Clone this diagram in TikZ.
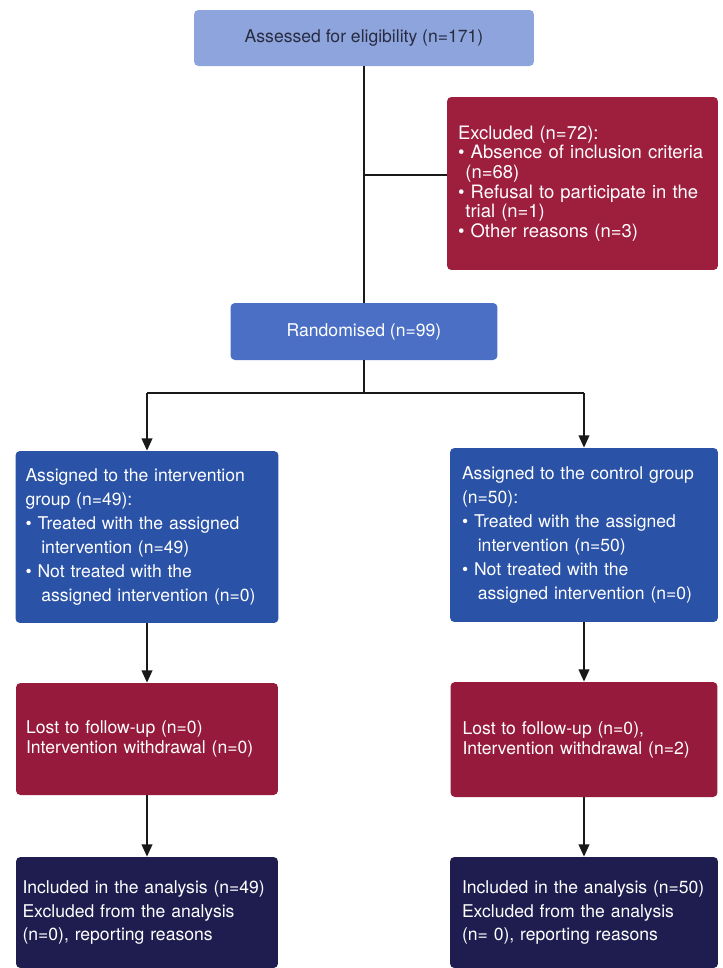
\documentclass[tikz,border=0pt]{standalone}
\usepackage{fontspec}
\setmainfont{TeX Gyre Heros}
\usetikzlibrary{arrows.meta}
\definecolor{assessblue}{RGB}{141,164,220}
\definecolor{randblue}{RGB}{74,111,196}
\definecolor{groupblue}{RGB}{42,82,166}
\definecolor{exclred}{RGB}{158,30,62}
\definecolor{lostred}{RGB}{150,26,60}
\definecolor{anavy}{RGB}{31,29,80}
\definecolor{darktext}{RGB}{40,44,66}
\newcommand{\itm}{\textbullet\ }

\begin{document}
\begin{tikzpicture}[x=0.02cm,y=-0.02cm,
    box/.style={rounded corners=2.5pt, inner ysep=0pt, text=white, align=left,
        font=\fontsize{10}{13.6}\selectfont},
    con/.style={line width=1.2pt, black!90},
    arr/.style={con, -{Triangle[length=7pt,width=6pt]}}]
    \useasboundingbox (0,0) rectangle (723,968);

    % screening
    \node[box, fill=assessblue, text=darktext, align=center,
        minimum width=6.8cm, minimum height=1.12cm] (assess) at (364,38)
        {Assessed for eligibility (n=171)};
    \node[box, fill=exclred, font=\fontsize{10.5}{11.2}\selectfont,
        text width=4.98cm, inner xsep=0.22cm, minimum height=3.46cm] (excl) at (582.5,183.5)
        {Excluded (n=72):\\
         \itm Absence of inclusion criteria\\
         \hspace*{0.4em}(n=68)\\
         \itm Refusal to participate in the\\
         \hspace*{0.4em}trial (n=1)\\
         \itm Other reasons (n=3)};
    \node[box, fill=randblue, align=center,
        minimum width=5.34cm, minimum height=1.14cm] (rand) at (364,331.5)
        {Randomised (n=99)};

    % allocation
    \node[box, fill=groupblue, text width=4.86cm, inner xsep=0.2cm,
        minimum height=3.44cm] (intv) at (147,537)
        {Assigned to the intervention\\
         group (n=49):\\
         \itm Treated with the assigned\\
         \hspace*{0.9em}intervention (n=49)\\
         \itm Not treated with the\\
         \hspace*{0.9em}assigned intervention (n=0)};
    \node[box, fill=groupblue, text width=4.88cm, inner xsep=0.24cm,
        minimum height=3.48cm] (ctrl) at (584,535)
        {Assigned to the control group\\
         (n=50):\\
         \itm Treated with the assigned\\
         \hspace*{0.9em}intervention (n=50)\\
         \itm Not treated with the\\
         \hspace*{0.9em}assigned intervention (n=0)};

    % follow-up
    \node[box, fill=lostred, font=\fontsize{10}{11.3}\selectfont,
        text width=4.84cm, inner xsep=0.2cm, minimum height=2.24cm] (lostL) at (147,739)
        {Lost to follow-up (n=0)\\
         Intervention withdrawal (n=0)};
    \node[box, fill=lostred, font=\fontsize{10}{11.3}\selectfont,
        text width=4.86cm, inner xsep=0.24cm, minimum height=2.3cm] (lostR) at (584,739.5)
        {Lost to follow-up (n=0),\\
         Intervention withdrawal (n=2)};

    % analysis
    \node[box, fill=anavy, text width=4.98cm, inner xsep=0.13cm,
        minimum height=2.22cm] (anaL) at (147,912.5)
        {\mbox{Included in the analysis (n=49)}\\
         Excluded from the analysis\\
         (n=0), reporting reasons};
    \node[box, fill=anavy, text width=4.88cm, inner xsep=0.24cm,
        minimum height=2.22cm] (anaR) at (584,912.5)
        {\mbox{Included in the analysis (n=50)}\\
         Excluded from the analysis\\
         (n= 0), reporting reasons};

    \coordinate (jx) at (364,175);
    \coordinate (split) at (364,393);

    \draw[con] (assess.south) -- (rand.north);
    \draw[con] (jx) -- (jx -| excl.west);
    \draw[con] (rand.south) -- (split);
    \draw[con] (split -| intv.north) -- (split -| ctrl.north);
    \draw[arr] (split -| intv.north) -- (intv.north);
    \draw[arr] (split -| ctrl.north) -- (ctrl.north);
    \draw[arr] (intv.south) -- (lostL.north);
    \draw[arr] (ctrl.south) -- (lostR.north);
    \draw[arr] (lostL.south) -- (anaL.north);
    \draw[arr] (lostR.south) -- (anaR.north);
\end{tikzpicture}
\end{document}
